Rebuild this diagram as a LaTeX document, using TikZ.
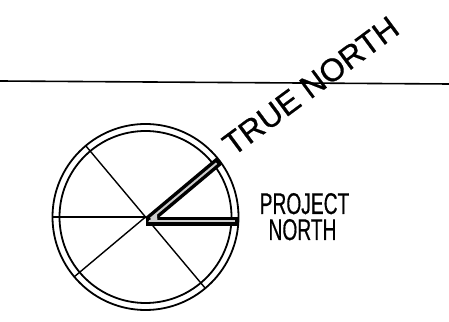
\documentclass[tikz,border=0pt]{standalone}
\usepackage{fontspec}
\setmainfont{Liberation Sans}

\begin{document}
\begin{tikzpicture}[x=1pt, y=1pt,
    ring/.style={line width=1.8pt},
    spoke/.style={line width=1.4pt},
    lbl/.style={font=\fontsize{30}{30}\selectfont\addfontfeature{FakeBold=0.6}, inner sep=0pt},
    barfill/.style={gray!40},
  ]
  \useasboundingbox (0,0) rectangle (449,321);

  % reference line across the sheet
  \coordinate (hl) at (0,240);
  \coordinate (hr) at (449,237);
  \draw[line width=1.6pt] (hl) -- (hr);

  % compass rose
  \coordinate (ctr) at (145.5,104);
  \draw[ring] (ctr) circle (93);
  \draw[ring] (ctr) circle (86);
  \foreach \a in {130,180,220,310}
    \draw[spoke] (ctr) -- ++(\a:93);

  % the two north bars, 9 units wide
  \begin{scope}[shift={(ctr)}]
    \fill (0,0) rectangle (92.6,-9);
    \fill[rotate=40] (0,0) rectangle (92.5,-9);
    \draw[barfill, line width=2pt] (3,-4.5) -- (89,-4.5);
    \draw[barfill, line width=2pt, rotate=40] (3,-4.5) -- (89,-4.5);
    \fill[barfill] (2.5,-5) -- (12,-5) -- (11.4,3.6) -- cycle;
  \end{scope}

  % labels
  \node[lbl, font=\fontsize{32}{32}\selectfont\addfontfeature{FakeBold=0.6},
        rotate=36.5, anchor=base west] (truen) at (233,164) {TRUE NORTH};
  \node[lbl, anchor=base] (projn) at (304.5,107) {\scalebox{0.64}[1]{PROJECT}};
  \node[lbl, anchor=base] (projn2) at (302.5,81) {\scalebox{0.64}[1]{NORTH}};
\end{tikzpicture}
\end{document}
